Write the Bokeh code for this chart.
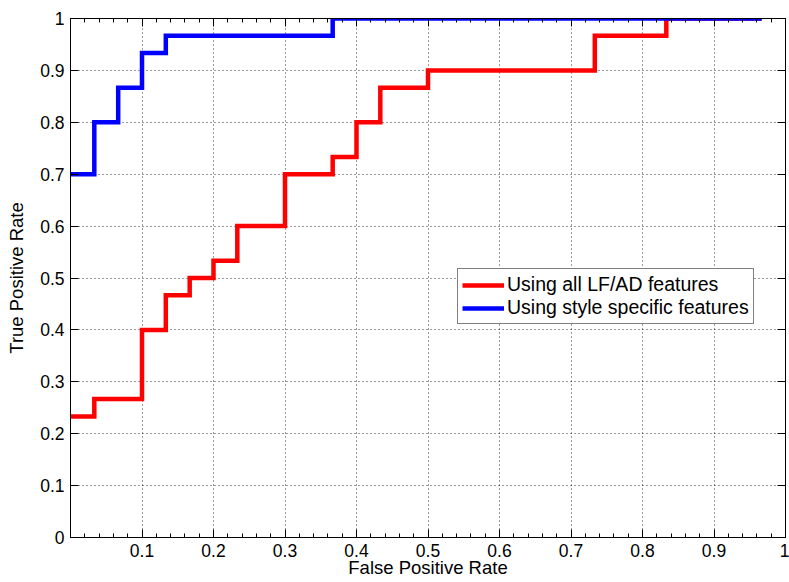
from bokeh.plotting import figure
from bokeh.models import (Range1d, FixedTicker, LinearAxis, Legend, LegendItem,
                          CustomJSTickFormatter)
from bokeh.embed import file_html
from bokeh.resources import INLINE

# ROC curve data
red_fpr = [0.0, 0.0333, 0.1, 0.1333, 0.1667, 0.2, 0.2333, 0.3, 0.3667, 0.4,
           0.4333, 0.5, 0.7333, 0.8333, 0.9667]
red_tpr = [0.2333, 0.2667, 0.4, 0.4667, 0.5, 0.5333, 0.6, 0.7, 0.7333, 0.8,
           0.8667, 0.9, 0.9667, 1.0, 1.0]
blue_fpr = [0.0, 0.0333, 0.0667, 0.1, 0.1333, 0.3667, 0.9667]
blue_tpr = [0.7, 0.8, 0.8667, 0.9333, 0.9667, 1.0, 1.0]

red_label = "Using all LF/AD features"
blue_label = "Using style specific features"

x_ticks = [0.1, 0.2, 0.3, 0.4, 0.5, 0.6, 0.7, 0.8, 0.9, 1.0]
y_ticks = [0.0, 0.1, 0.2, 0.3, 0.4, 0.5, 0.6, 0.7, 0.8, 0.9, 1.0]
x_minor = [0.02, 0.04, 0.06, 0.08, 0.12, 0.14, 0.16, 0.18, 0.22, 0.24, 0.26, 0.28,
           0.32, 0.34, 0.36, 0.38, 0.42, 0.44, 0.46, 0.48, 0.52, 0.54, 0.56, 0.58,
           0.62, 0.64, 0.66, 0.68, 0.72, 0.74, 0.76, 0.78, 0.82, 0.84, 0.86, 0.88,
           0.92, 0.94, 0.96, 0.98]

FONT = "Liberation Sans"

p = figure(width=789, height=582, output_backend="svg", toolbar_location=None,
           x_range=Range1d(0, 1), y_range=Range1d(0, 1),
           min_border_left=70, min_border_right=4, min_border_top=18, min_border_bottom=45,
           x_axis_label="False Positive Rate", y_axis_label="True Positive Rate")
p.background_fill_color = "white"
p.border_fill_color = "white"
p.outline_line_color = "black"
p.outline_line_width = 1

fmt = CustomJSTickFormatter(code=r"return tick.toFixed(1).replace(/\.0$/, '');")
empty = CustomJSTickFormatter(code="return '';")

xt = FixedTicker(ticks=x_ticks, minor_ticks=x_minor)
yt = FixedTicker(ticks=y_ticks, minor_ticks=[])

for ax, t in ((p.xaxis[0], xt), (p.yaxis[0], yt)):
    ax.ticker = t
    ax.formatter = fmt
    ax.major_tick_in = 8
    ax.major_tick_out = 0
    ax.minor_tick_in = 4
    ax.minor_tick_out = 0
    ax.axis_line_color = "black"
    ax.major_tick_line_color = "black"
    ax.minor_tick_line_color = "black"
    ax.major_label_text_font = FONT
    ax.major_label_text_font_size = "17.5px"
    ax.major_label_text_color = "black"
    ax.axis_label_text_font = FONT
    ax.axis_label_text_font_size = "18.5px"
    ax.axis_label_text_font_style = "normal"
    ax.axis_label_text_color = "black"

p.xaxis[0].major_label_standoff = 6
p.xaxis[0].axis_label_standoff = -3
p.yaxis[0].major_label_standoff = 6
p.yaxis[0].axis_label_standoff = 10

for loc, t in (("above", xt), ("right", yt)):
    ax = LinearAxis(ticker=t, formatter=empty, major_tick_in=8, major_tick_out=0,
                    minor_tick_in=4, minor_tick_out=0, major_label_standoff=0,
                    major_label_text_font_size="1px", axis_line_color="black")
    p.add_layout(ax, loc)

for g, t in ((p.xgrid[0], xt), (p.ygrid[0], yt)):
    g.ticker = t
    g.grid_line_color = "#111111"
    g.grid_line_dash = "1 3"
    g.grid_line_width = 1
    g.grid_line_alpha = 0.85

r_red = p.step(red_fpr, red_tpr, mode="after", line_color="#FF0000", line_width=4.5,
               line_join="miter")
r_blue = p.step(blue_fpr, blue_tpr, mode="after", line_color="#0000FF", line_width=4.5,
                line_join="miter")

legend = Legend(items=[LegendItem(label=red_label, renderers=[r_red]),
                       LegendItem(label=blue_label, renderers=[r_blue])],
                location=(387, 213), orientation="vertical")
legend.border_line_color = "black"
legend.border_line_width = 1
legend.background_fill_color = "white"
legend.background_fill_alpha = 1
legend.label_text_font = FONT
legend.label_text_font_size = "19.5px"
legend.label_text_color = "black"
legend.glyph_width = 42
legend.glyph_height = 20
legend.label_height = 20
legend.label_standoff = 3
legend.spacing = 0
legend.padding = 4
legend.margin = 0
p.add_layout(legend, "center")

open("out.html", "w").write(file_html(p, INLINE))
